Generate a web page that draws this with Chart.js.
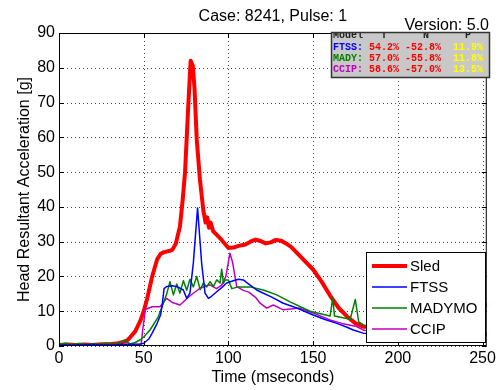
<!DOCTYPE html>
<html>
<head>
<meta charset="utf-8">
<script src="https://cdn.jsdelivr.net/npm/chart.js@4"></script>
<style>
  body { margin: 0; background: #fff; }
  #wrap { width: 499px; height: 390px; }
</style>
</head>
<body>
<div id="wrap"><canvas id="mycanvas" width="499" height="390"></canvas></div>
<script>
// values
var sledT = [0,5,10,15,20,25,30,35,38,40,42,45,48,50,52,55,58,60,62,65,67,69,71.4,73,74.4,76.3,77.7,79,80,81.3,83.2,85.2,86.5,87.5,88.5,89.5,91,93,96,100,103,106,110,113,116,119,122,125,128,131,134,137,140,145,150,155,160,165,170,175,180,190,200,210,220,230,240,250,252.5];
var sledV = [0.3,0.4,0.3,0.4,0.3,0.5,0.5,0.8,1.2,1.5,2.5,4.2,7.2,10,13.5,20,25,26.5,27,27.3,27.7,29.5,34.4,42,50,69,82,80.5,74,59.4,47.8,39,35.5,37,34,35.5,33,32,30.5,28.2,28.3,28.8,29.2,30,30.6,30.2,29.5,29.8,30.5,30.3,29.5,28.5,27,24.5,22,18.5,14.5,11,8.5,6.5,5.5,5.5,6,7,8,9,10,11,11.8,12];

var ftssT = [0,10,20,30,40,45,48,50,53,55,58,60,61,62,63.6,67,70,73.4,75.4,77.3,79.3,81.8,84.2,86.2,88.2,90,93.1,96,99,102,105.9,108.8,112,116.7,120,125,132.4,140,150,157,164,170,173.7,179.6,190,210,230,245,252.5];
var ftssV = [0.3,0.3,0.4,0.3,0.5,0.5,0.6,0.8,2,3.7,6.6,9,12,16.5,17.1,17.3,17,16.1,13.7,15.2,23.9,39.7,23.8,15.2,13.7,14.3,15.6,16.8,18.1,18.6,19.2,19,17.8,16.1,15.3,14.2,12.3,11,8.9,7.6,6.5,5.4,4.6,3.7,3.3,3.3,3.4,3.5,3.6];

var madyT = [0,4,8,12,16,20,24,28,32,36,38,39,40,42,45,48,50,53.7,58.6,61.6,63.6,65.5,67.5,69.5,71.4,73.4,75.4,77.3,79.3,81.3,83.3,85.2,87.2,89.2,91.2,93.1,95.1,96,97.1,98,100,102,106,112.8,120.6,128.5,136.4,148.2,160,161.6,162.6,171.9,174.9,176.9,180];
var madyV = [0.5,0.8,0.4,0.7,0.4,0.6,0.5,0.8,0.6,0.9,1.5,1.7,1.2,0.6,1,1.8,2.6,4.6,8.4,12.3,15,18.5,14.7,17.8,15.2,18.8,16,19.2,17,20,16.2,18.1,17,18.5,17.1,19,18.1,22.1,18,19,19,16.5,17,17,16.1,14.7,12.7,10,8.6,13.8,8.6,7.7,13.4,6.9,6];

var ccipT = [0,10,20,30,40,45,48.5,49.5,51,55,59.6,63.6,67,71.4,77,83.2,89,93,96,98.5,100.9,102.5,104.9,108.8,112,116,118.7,122.6,126.5,132.4,142.3,150,160,167,175.7,180,200,240,252.5];
var ccipV = [0.3,0.3,0.4,0.3,0.4,0.4,0.5,5,10.5,11.3,11.3,13.7,12.5,11.8,14.3,16.6,17.6,16.5,17.5,20,26.7,24,17.1,16,15.5,14,12.3,10.9,11.8,10.4,10.9,9.5,7.5,6.5,5.6,4.5,3.5,3,3.1];

var seriesNames = ['Sled', 'FTSS', 'MADYMO', 'CCIP'];
var seriesColors = ['#ff0000', '#0000ff', '#008000', '#c000c0'];
var seriesWidths = [4, 1.5, 1.5, 1.5];

var xTicks = [0, 50, 100, 150, 200, 250];
var yTicks = [0, 10, 20, 30, 40, 50, 60, 70, 80, 90];

var tableHead = 'Model   T      N      P';
var tableModels = ['FTSS:', 'MADY:', 'CCIP:'];
var tableT = ['54.2%', '57.0%', '58.6%'];
var tableN = ['-52.8%', '-55.8%', '-57.0%'];
var tableP = ['11.9%', '11.8%', '13.5%'];
var tableColors = ['#0000ff', '#008000', '#c000c0'];

function pairs(t, v) {
	var out = [];
	for (var i in t) {
		out.push({x: t[i], y: v[i]});
	}
	return out;
}

var allT = [sledT, ftssT, madyT, ccipT];
var allV = [sledV, ftssV, madyV, ccipV];

var datasets = [];
// draw sled last so it sits on top like the reference
var order = [1, 2, 3, 0];
for (var k = 0; k < order.length; k++) {
	var i = order[k];
	datasets.push({
		label: seriesNames[i],
		data: pairs(allT[i], allV[i]),
		borderColor: seriesColors[i],
		backgroundColor: seriesColors[i],
		borderWidth: seriesWidths[i],
		borderJoinStyle: 'round',
		borderCapStyle: 'round',
		pointRadius: 0,
		tension: 0,
		fill: false
	});
}

var font16 = {family: 'Liberation Sans, Arial, sans-serif', size: 16};

// dotted grid, box round the axes with inward tick marks (MATLAB style)
var boxPlugin = {
	id: 'box',
	beforeDatasetsDraw: function(chart) {
		var c = chart.ctx, a = chart.chartArea;
		var xs = chart.scales.x, ys = chart.scales.y;
		c.save();
		c.strokeStyle = '#444';
		c.lineWidth = 1;
		c.setLineDash([1, 3]);
		c.beginPath();
		xTicks.forEach(function(v) {
			var p = Math.round(xs.getPixelForValue(v)) + 0.5;
			c.moveTo(p, a.top); c.lineTo(p, a.bottom);
		});
		yTicks.forEach(function(v) {
			var p = Math.round(ys.getPixelForValue(v)) + 0.5;
			c.moveTo(a.left, p); c.lineTo(a.right, p);
		});
		c.stroke();
		c.restore();
	},
	afterDatasetsDraw: function(chart) {
		var c = chart.ctx, a = chart.chartArea;
		var xs = chart.scales.x, ys = chart.scales.y;
		c.save();
		c.strokeStyle = '#000';
		c.lineWidth = 1;
		c.strokeRect(a.left + 0.5, a.top + 0.5, a.right - a.left - 1, a.bottom - a.top - 1);
		c.beginPath();
		xTicks.forEach(function(v) {
			var p = Math.round(xs.getPixelForValue(v)) + 0.5;
			c.moveTo(p, a.bottom); c.lineTo(p, a.bottom - 5);
			c.moveTo(p, a.top); c.lineTo(p, a.top + 5);
		});
		yTicks.forEach(function(v) {
			var p = Math.round(ys.getPixelForValue(v)) + 0.5;
			c.moveTo(a.left, p); c.lineTo(a.left + 5, p);
			c.moveTo(a.right, p); c.lineTo(a.right - 5, p);
		});
		c.stroke();
		c.restore();
	},
	afterDraw: function(chart) {
		var c = chart.ctx, a = chart.chartArea;
		c.save();
		// titles
		c.fillStyle = '#000';
		c.font = '16px "Liberation Sans", Arial, sans-serif';
		c.textAlign = 'center';
		c.textBaseline = 'alphabetic';
		c.fillText('Case: 8241, Pulse: 1', (a.left + a.right) / 2, 21);
		c.textAlign = 'right';
		c.fillText('Version: 5.0', 489, 30);
		c.textAlign = 'left';

		// score table
		var tx = 331, ty = 32, tw = 159, th = 46;
		c.fillStyle = '#c8c8c8';
		c.fillRect(tx, ty, tw, th);
		c.save();
		c.beginPath();
		c.rect(tx, ty, tw, th);
		c.clip();
		c.font = 'bold 10px "Liberation Mono", "Courier New", monospace';
		var cw = c.measureText('M').width;
		c.fillStyle = '#222';
		c.fillText(tableHead, tx + 2, ty + 6);
		for (var r = 0; r < tableModels.length; r++) {
			var by = ty + 18 + r * 11;
			c.fillStyle = tableColors[r];
			c.fillText(tableModels[r], tx + 2, by);
			c.fillStyle = '#ff0000';
			c.fillText(tableT[r], tx + 2 + cw * 6, by);
			c.fillText(tableN[r], tx + 2 + cw * 12, by);
			c.fillStyle = '#ffff00';
			c.fillText(tableP[r], tx + 2 + cw * 20, by);
		}
		c.restore();
		c.strokeStyle = '#333';
		c.lineWidth = 1.5;
		c.strokeRect(tx + 0.5, ty + 0.5, tw - 1, th - 1);

		// legend
		var lx = 366, ly = 252, lw = 119, lh = 90;
		c.fillStyle = '#fff';
		c.fillRect(lx, ly, lw, lh);
		c.strokeStyle = '#000';
		c.lineWidth = 1;
		c.strokeRect(lx + 0.5, ly + 0.5, lw, lh);
		c.font = '15px "Liberation Sans", Arial, sans-serif';
		c.textAlign = 'left';
		c.textBaseline = 'middle';
		for (var j = 0; j < seriesNames.length; j++) {
			var yy = ly + 14 + j * 21;
			c.strokeStyle = seriesColors[j];
			c.lineWidth = seriesWidths[j];
			c.beginPath();
			c.moveTo(lx + 6, yy); c.lineTo(lx + 41, yy);
			c.stroke();
			c.fillStyle = '#000';
			c.fillText(seriesNames[j], lx + 44, yy + 1);
		}
		c.restore();
	}
};

var ctx = document.getElementById('mycanvas');

var lineGraph = new Chart(ctx, {
	type: 'line',
	data: {datasets: datasets},
	plugins: [boxPlugin],
	options: {
		responsive: false,
		animation: false,
		layout: {padding: {top: 33, right: 12, left: 0, bottom: 0}},
		plugins: {legend: {display: false}, tooltip: {enabled: false}, title: {display: false}},
		scales: {
			x: {
				type: 'linear',
				min: 0,
				max: 252.5,
				afterBuildTicks: function(s) { s.ticks = xTicks.map(function(v) { return {value: v}; }); },
				afterFit: function(s) { s.height = 44; },
				ticks: {font: font16, color: '#000', padding: 3, maxRotation: 0, autoSkip: false},
				grid: {display: false, drawTicks: false},
				border: {display: false},
				title: {display: true, text: 'Time (mseconds)', font: font16, color: '#000', padding: {top: 0, bottom: 3}}
			},
			y: {
				min: 0,
				max: 90,
				afterBuildTicks: function(s) { s.ticks = yTicks.map(function(v) { return {value: v}; }); },
				afterFit: function(s) { s.width = 59; },
				ticks: {font: font16, color: '#000', padding: 4, autoSkip: false},
				grid: {display: false, drawTicks: false},
				border: {display: false},
				title: {display: true, text: 'Head Resultant Acceleration [g]', font: font16, color: '#000', padding: {top: 15, bottom: 0}}
			}
		}
	}
});
</script>
</body>
</html>
